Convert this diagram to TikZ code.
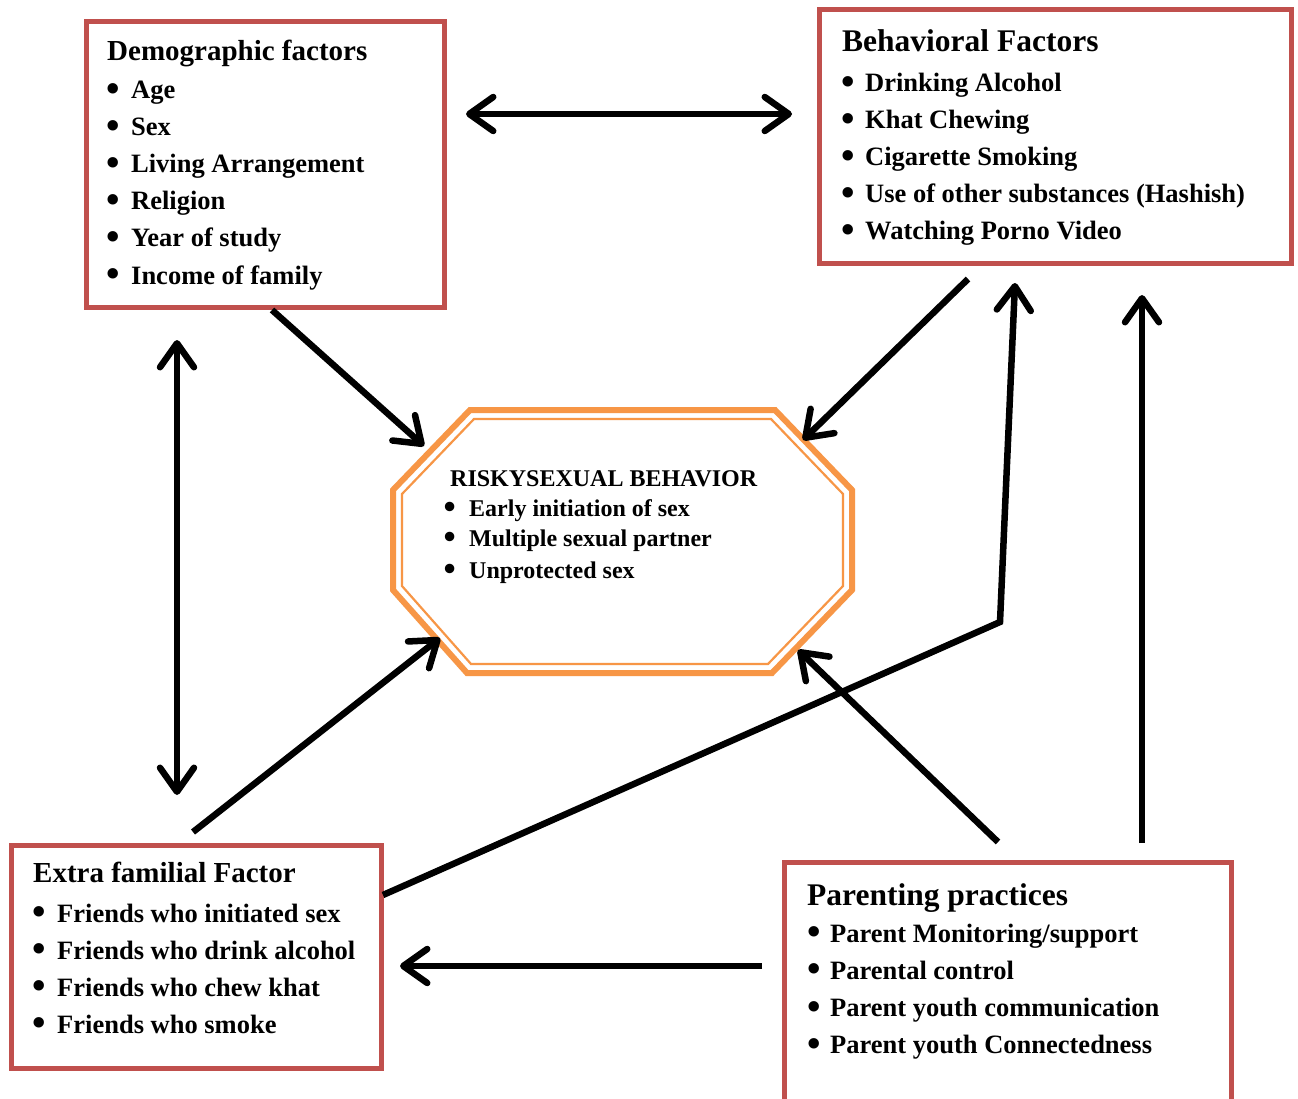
\documentclass[tikz,border=0pt]{standalone}
\usepackage{fontspec}
\usepackage{graphicx}
\setmainfont{Liberation Serif}
\usetikzlibrary{arrows.meta}
\definecolor{boxred}{RGB}{192,80,77}
\definecolor{octorange}{RGB}{247,150,70}
\newcommand{\bulbox}[1]{\makebox[#1][l]{\hspace{-2.4pt}\raisebox{-0.1em}{\scalebox{1.45}{\textbullet}}}}
\begin{document}
\begin{tikzpicture}[x=1pt,y=-1pt,
  redbox/.style={draw=boxred, line width=5pt, inner sep=0pt},
  ttl/.style={anchor=base west, inner sep=0pt, font=\fontsize{29}{34}\selectfont\bfseries},
  ttlb/.style={anchor=base west, inner sep=0pt, font=\fontsize{31.5}{36}\selectfont\bfseries},
  itm/.style={anchor=base west, inner sep=0pt, font=\fontsize{26.5}{30}\selectfont\bfseries},
  itms/.style={anchor=base west, inner sep=0pt, font=\fontsize{24}{28}\selectfont\bfseries},
  >={Straight Barb[length=24pt,width=34pt,round]},
  arr/.style={line width=6.5pt, ->},
  dbl/.style={line width=6.5pt, <->},
  seg/.style={line width=6.5pt}
]
\useasboundingbox (0,0) rectangle (1298,1099);
\fill[white] (0,0) rectangle (1298,1099);

% boxes
\node[redbox, minimum width=358pt, minimum height=285pt] (demo) at (265,164.5) {};
\node[redbox, minimum width=472pt, minimum height=254pt] (behav) at (1055,137) {};
\node[redbox, minimum width=370pt, minimum height=223pt] (extra) at (196,956.5) {};
\node[inner sep=0pt, minimum width=446pt, minimum height=247pt] (par) at (1008,986.5) {};
\draw[boxred, line width=5pt] (par.south west) |- (par.north east) -- (par.south east);

% demographic text
\node[ttl] (demo-t) at (107,61) {Demographic factors};
\foreach \t [count=\i] in {Age, Sex, Living Arrangement, Religion, Year of study, Income of family}
  \node[itm] (demo-i\i) at (108.5,{99+37*(\i-1)}) {\bulbox{22.5pt}\t};

% behavioral text
\node[ttlb] (behav-t) at (842,52) {Behavioral Factors};
\foreach \t [count=\i] in {Drinking Alcohol, Khat Chewing, Cigarette Smoking, Use of other substances (Hashish), Watching Porno Video}
  \node[itm] (behav-i\i) at (843.5,{92+37*(\i-1)}) {\bulbox{21.5pt}\t};

% extra familial text
\node[ttl] (extra-t) at (33,882) {Extra familial Factor};
\foreach \t [count=\i] in {Friends who initiated sex, Friends who drink alcohol, Friends who chew khat, Friends who smoke}
  \node[itm] (extra-i\i) at (34.5,{922+37*(\i-1)}) {\bulbox{22.5pt}\t};

% parenting text
\node[ttlb] (par-t) at (807,905) {Parenting practices};
\foreach \t [count=\i] in {Parent Monitoring/support, Parental control, Parent youth communication, Parent youth Connectedness}
  \node[itm] (par-i\i) at (809.5,{942+37.3*(\i-1)}) {\bulbox{20.5pt}\t};

% octagon
\draw[octorange, line width=6pt, line join=miter]
  (393,490) -- (470,410) -- (775,410) -- (852,490) -- (852,590) -- (772,673) -- (467,673) -- (393,590) -- cycle;
\draw[octorange, line width=2.2pt]
  (402,494) -- (474,419) -- (771,419) -- (843,494) -- (843,586) -- (768,664) -- (471,664) -- (402,586) -- cycle;
\node[itms] (risk-t) at (450,486) {RISKYSEXUAL BEHAVIOR};
\node[itms] (risk-i1) at (445.8,516) {\bulbox{23.2pt}Early initiation of sex};
\node[itms] (risk-i2) at (445.8,546) {\bulbox{23.2pt}Multiple sexual partner};
\node[itms] (risk-i3) at (445.8,578) {\bulbox{23.2pt}Unprotected sex};

% connector end points
\coordinate (hA) at (466,114);
\coordinate (hB) at (792,114);
\coordinate (vA) at (177,340);
\coordinate (vB) at (177,795);
\coordinate (dOut) at (272,310);
\coordinate (rTL) at (424,446);
\coordinate (bOut) at (968,279);
\coordinate (rTR) at (803,440);
\coordinate (eOut) at (193,832);
\coordinate (rBL) at (440,638);
\coordinate (eRight) at (383,895);
\coordinate (bend) at (1000,622);
\coordinate (bIn1) at (1015,283);
\coordinate (pOut1) at (998,842);
\coordinate (rBR) at (798,650);
\coordinate (pOut2) at (762,966);
\coordinate (eIn) at (400,966);
\coordinate (pOut3) at (1142,843);
\coordinate (bIn2) at (1142,295);

% connectors
\draw[dbl] (hA) -- (hB);
\draw[dbl] (vA) -- (vB);
\draw[arr] (dOut) -- (rTL);
\draw[arr] (bOut) -- (rTR);
\draw[arr] (eOut) -- (rBL);
\draw[arr, line join=miter] (eRight) -- (bend) -- (bIn1);
\draw[arr] (pOut1) -- (rBR);
\draw[arr] (pOut2) -- (eIn);
\draw[arr] (pOut3) -- (bIn2);
\end{tikzpicture}
\end{document}
